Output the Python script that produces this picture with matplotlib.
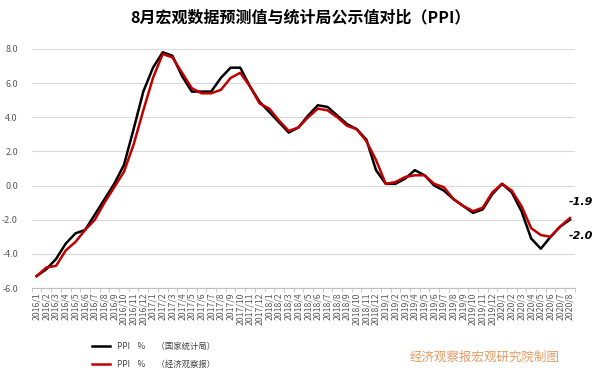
import numpy as np
import matplotlib.pyplot as plt
from matplotlib.lines import Line2D

plt.rcParams['font.family'] = ['Noto Sans CJK SC', 'DejaVu Sans']

# months 2016/1 .. 2020/8
months = [f'{y}/{m}' for y in range(2016, 2021) for m in range(1, 13)][:56]

# 国家统计局 PPI (%)
ppi_official = [-5.3, -4.9, -4.3, -3.4, -2.8, -2.6, -1.7, -0.8, 0.1, 1.2, 3.3, 5.5,
                6.9, 7.8, 7.6, 6.4, 5.5, 5.5, 5.5, 6.3, 6.9, 6.9, 5.8, 4.9,
                4.3, 3.7, 3.1, 3.4, 4.1, 4.7, 4.6, 4.1, 3.6, 3.3, 2.7, 0.9,
                0.1, 0.1, 0.4, 0.9, 0.6, 0.0, -0.3, -0.8, -1.2, -1.6, -1.4, -0.5,
                0.1, -0.4, -1.5, -3.1, -3.7, -3.0, -2.4, -2.0]

# 经济观察报 forecast PPI (%)
ppi_forecast = [-5.3, -4.8, -4.7, -3.8, -3.3, -2.6, -2.0, -1.0, -0.1, 0.8, 2.4, 4.4,
                6.3, 7.7, 7.5, 6.6, 5.7, 5.4, 5.4, 5.6, 6.3, 6.6, 5.8, 4.8,
                4.5, 3.8, 3.2, 3.4, 4.0, 4.5, 4.4, 4.0, 3.5, 3.3, 2.6, 1.5,
                0.1, 0.2, 0.5, 0.6, 0.6, 0.1, -0.1, -0.8, -1.2, -1.5, -1.3, -0.4,
                0.1, -0.3, -1.2, -2.5, -2.9, -3.0, -2.4, -1.9]

red = '#C00000'
x = np.arange(len(months))

fig = plt.figure(figsize=(6, 3.76), dpi=100)
ax = fig.add_axes([0.053, 0.234, 0.905, 0.636])

ax.plot(x, ppi_official, color='black', lw=1.8, zorder=3)
ax.plot(x, ppi_forecast, color=red, lw=1.8, zorder=4)

ax.set_xlim(-0.5, len(months) - 0.5)
ax.set_ylim(-6, 8)
ax.set_yticks(np.arange(-6, 9, 2))
ax.set_yticklabels([f'{v:.1f}' for v in np.arange(-6, 9, 2)], fontsize=6.5, color='#595959')
ax.yaxis.grid(True, color='#D9D9D9', lw=0.8)
ax.set_axisbelow(True)

ax.set_xticks(x)
ax.set_xticklabels(months, rotation=90, fontsize=6.3, color='#595959')
ax.set_xticks(np.arange(-0.5, len(months), 1), minor=True)
ax.tick_params(axis='x', which='major', length=0, pad=3)
ax.tick_params(axis='x', which='minor', length=3, color='#BFBFBF')
ax.tick_params(axis='y', length=0, pad=10)

for s in ['top', 'right', 'left']:
    ax.spines[s].set_visible(False)
ax.spines['bottom'].set_color('#BFBFBF')

ax.text(len(months) - 1.1, ppi_forecast[-1] + 0.95, f'{ppi_forecast[-1]:.1f}',
        fontsize=8, fontweight='bold', style='italic', family='DejaVu Sans', va='center')
ax.text(len(months) - 1.1, ppi_official[-1] - 0.95, f'{ppi_official[-1]:.1f}',
        fontsize=8, fontweight='bold', style='italic', family='DejaVu Sans', va='center')

fig.text(0.5, 0.955, '8月宏观数据预测值与统计局公示值对比（PPI）', ha='center', va='center',
         fontsize=11.5, fontweight='bold')

handles = [Line2D([], [], color='black', lw=1.8), Line2D([], [], color=red, lw=1.8)]
labels = ['PPI    %      （国家统计局）', 'PPI    %      （经济观察报）']
fig.legend(handles, labels, loc='center left', bbox_to_anchor=(0.14, 0.055),
           frameon=False, fontsize=6, handlelength=2.2, labelspacing=1.0,
           labelcolor='#404040')

fig.text(0.808, 0.05, '经济观察报宏观研究院制图', ha='center', va='center',
         fontsize=9, color='#E39A63')

fig.savefig('out.png', dpi=100)
